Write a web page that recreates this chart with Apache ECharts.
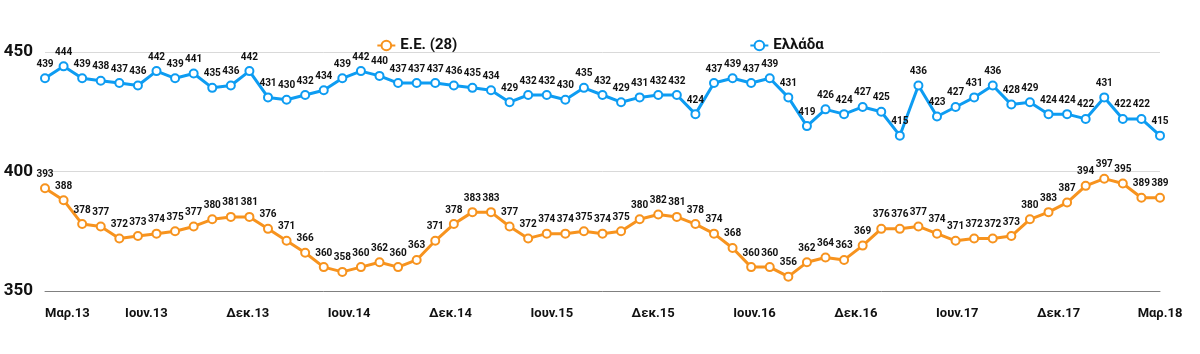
<!DOCTYPE html>
<html>
<head>
<meta charset="utf-8">
<script src="https://cdn.jsdelivr.net/npm/echarts@6/dist/echarts.min.js"></script>
<style>html,body{margin:0;padding:0;background:#fff}#c{width:1200px;height:354px}</style>
</head>
<body>
<div id="c"></div>
<script>
// Months Mar.13 .. Mar.18 (61 monthly points)
const monthNames = ['Ιαν','Φεβ','Μαρ','Απρ','Μαϊ','Ιουν','Ιουλ','Αυγ','Σεπ','Οκτ','Νοε','Δεκ'];
const categories = [];
for (let i = 0; i < 61; i++) {
  const m = (2 + i) % 12;
  const y = 13 + Math.floor((2 + i) / 12);
  categories.push(monthNames[m] + '.' + y);
}
const tickLabels = ['Mαρ.13','Ιουν.13','Δεκ.13','Ιουν.14','Δεκ.14','Ιουν.15','Δεκ.15','Ιουν.16','Δεκ.16','Ιουν.17','Δεκ.17','Mαρ.18'];
const euValues = [393,388,378,377,372,373,374,375,377,380,
  381,381,376,371,366,360,358,360,362,360,
  363,371,378,383,383,377,372,374,374,375,
  374,375,380,382,381,378,374,368,360,360,
  356,362,364,363,369,376,376,377,374,371,
  372,372,373,380,383,387,394,397,395,389,389];
const grValues = [439,444,439,438,437,436,442,439,441,435,
  436,442,431,430,432,434,439,442,440,437,
  437,437,436,435,434,429,432,432,430,435,
  432,429,431,432,432,424,437,439,437,439,
  431,419,426,424,427,425,415,436,423,427,
  431,436,428,429,424,424,422,431,422,422,415];
const yTicks = {min: 350, max: 450, interval: 50};

const FONT = 'Roboto';
const chart = echarts.init(document.getElementById('c'), null, {renderer: 'canvas'});
function lineSeries(name, data, color) {
  return {
    name, type: 'line', data,
    symbol: 'circle', symbolSize: 8, showAllSymbol: true,
    lineStyle: {color, width: 3},
    itemStyle: {color: '#fff', borderColor: color, borderWidth: 2},
    label: {show: true, position: 'top', distance: 4, fontFamily: FONT, fontSize: 10, fontWeight: 'bold', color: '#111'},
    emphasis: {disabled: true},
    animation: false
  };
}
chart.setOption({
  backgroundColor: '#fff',
  animation: false,
  legend: {
    left: 'center', top: 33, itemGap: 292, itemWidth: 18, itemHeight: 12,
    textStyle: {fontFamily: FONT, fontSize: 15, fontWeight: 'bold', color: '#111'},
    data: ['Ε.Ε. (28)', 'Ελλάδα']
  },
  grid: {left: 45, right: 40, top: 52, bottom: 63},
  xAxis: [{
    type: 'category', data: categories, boundaryGap: false,
    axisLine: {lineStyle: {color: '#808080', width: 1}},
    axisTick: {show: false}, axisLabel: {show: false}, splitLine: {show: false}
  }, {
    type: 'category', data: tickLabels, boundaryGap: false, position: 'bottom',
    axisLine: {show: false}, axisTick: {show: false}, splitLine: {show: false},
    axisLabel: {interval: 0, margin: 16, fontFamily: FONT, fontSize: 13, fontWeight: 'bold', color: '#111', alignMinLabel: 'left'}
  }],
  yAxis: {
    type: 'value', min: yTicks.min, max: yTicks.max, interval: yTicks.interval,
    axisLine: {show: false}, axisTick: {show: false},
    axisLabel: {margin: 12, fontFamily: FONT, fontSize: 17, fontWeight: 'bold', color: '#111'},
    splitLine: {lineStyle: {color: '#d9d9d9', width: 1}}
  },
  series: [
    lineSeries('Ε.Ε. (28)', euValues, '#f7931e'),
    lineSeries('Ελλάδα', grValues, '#0d9cf2')
  ]
});
</script>
</body>
</html>
